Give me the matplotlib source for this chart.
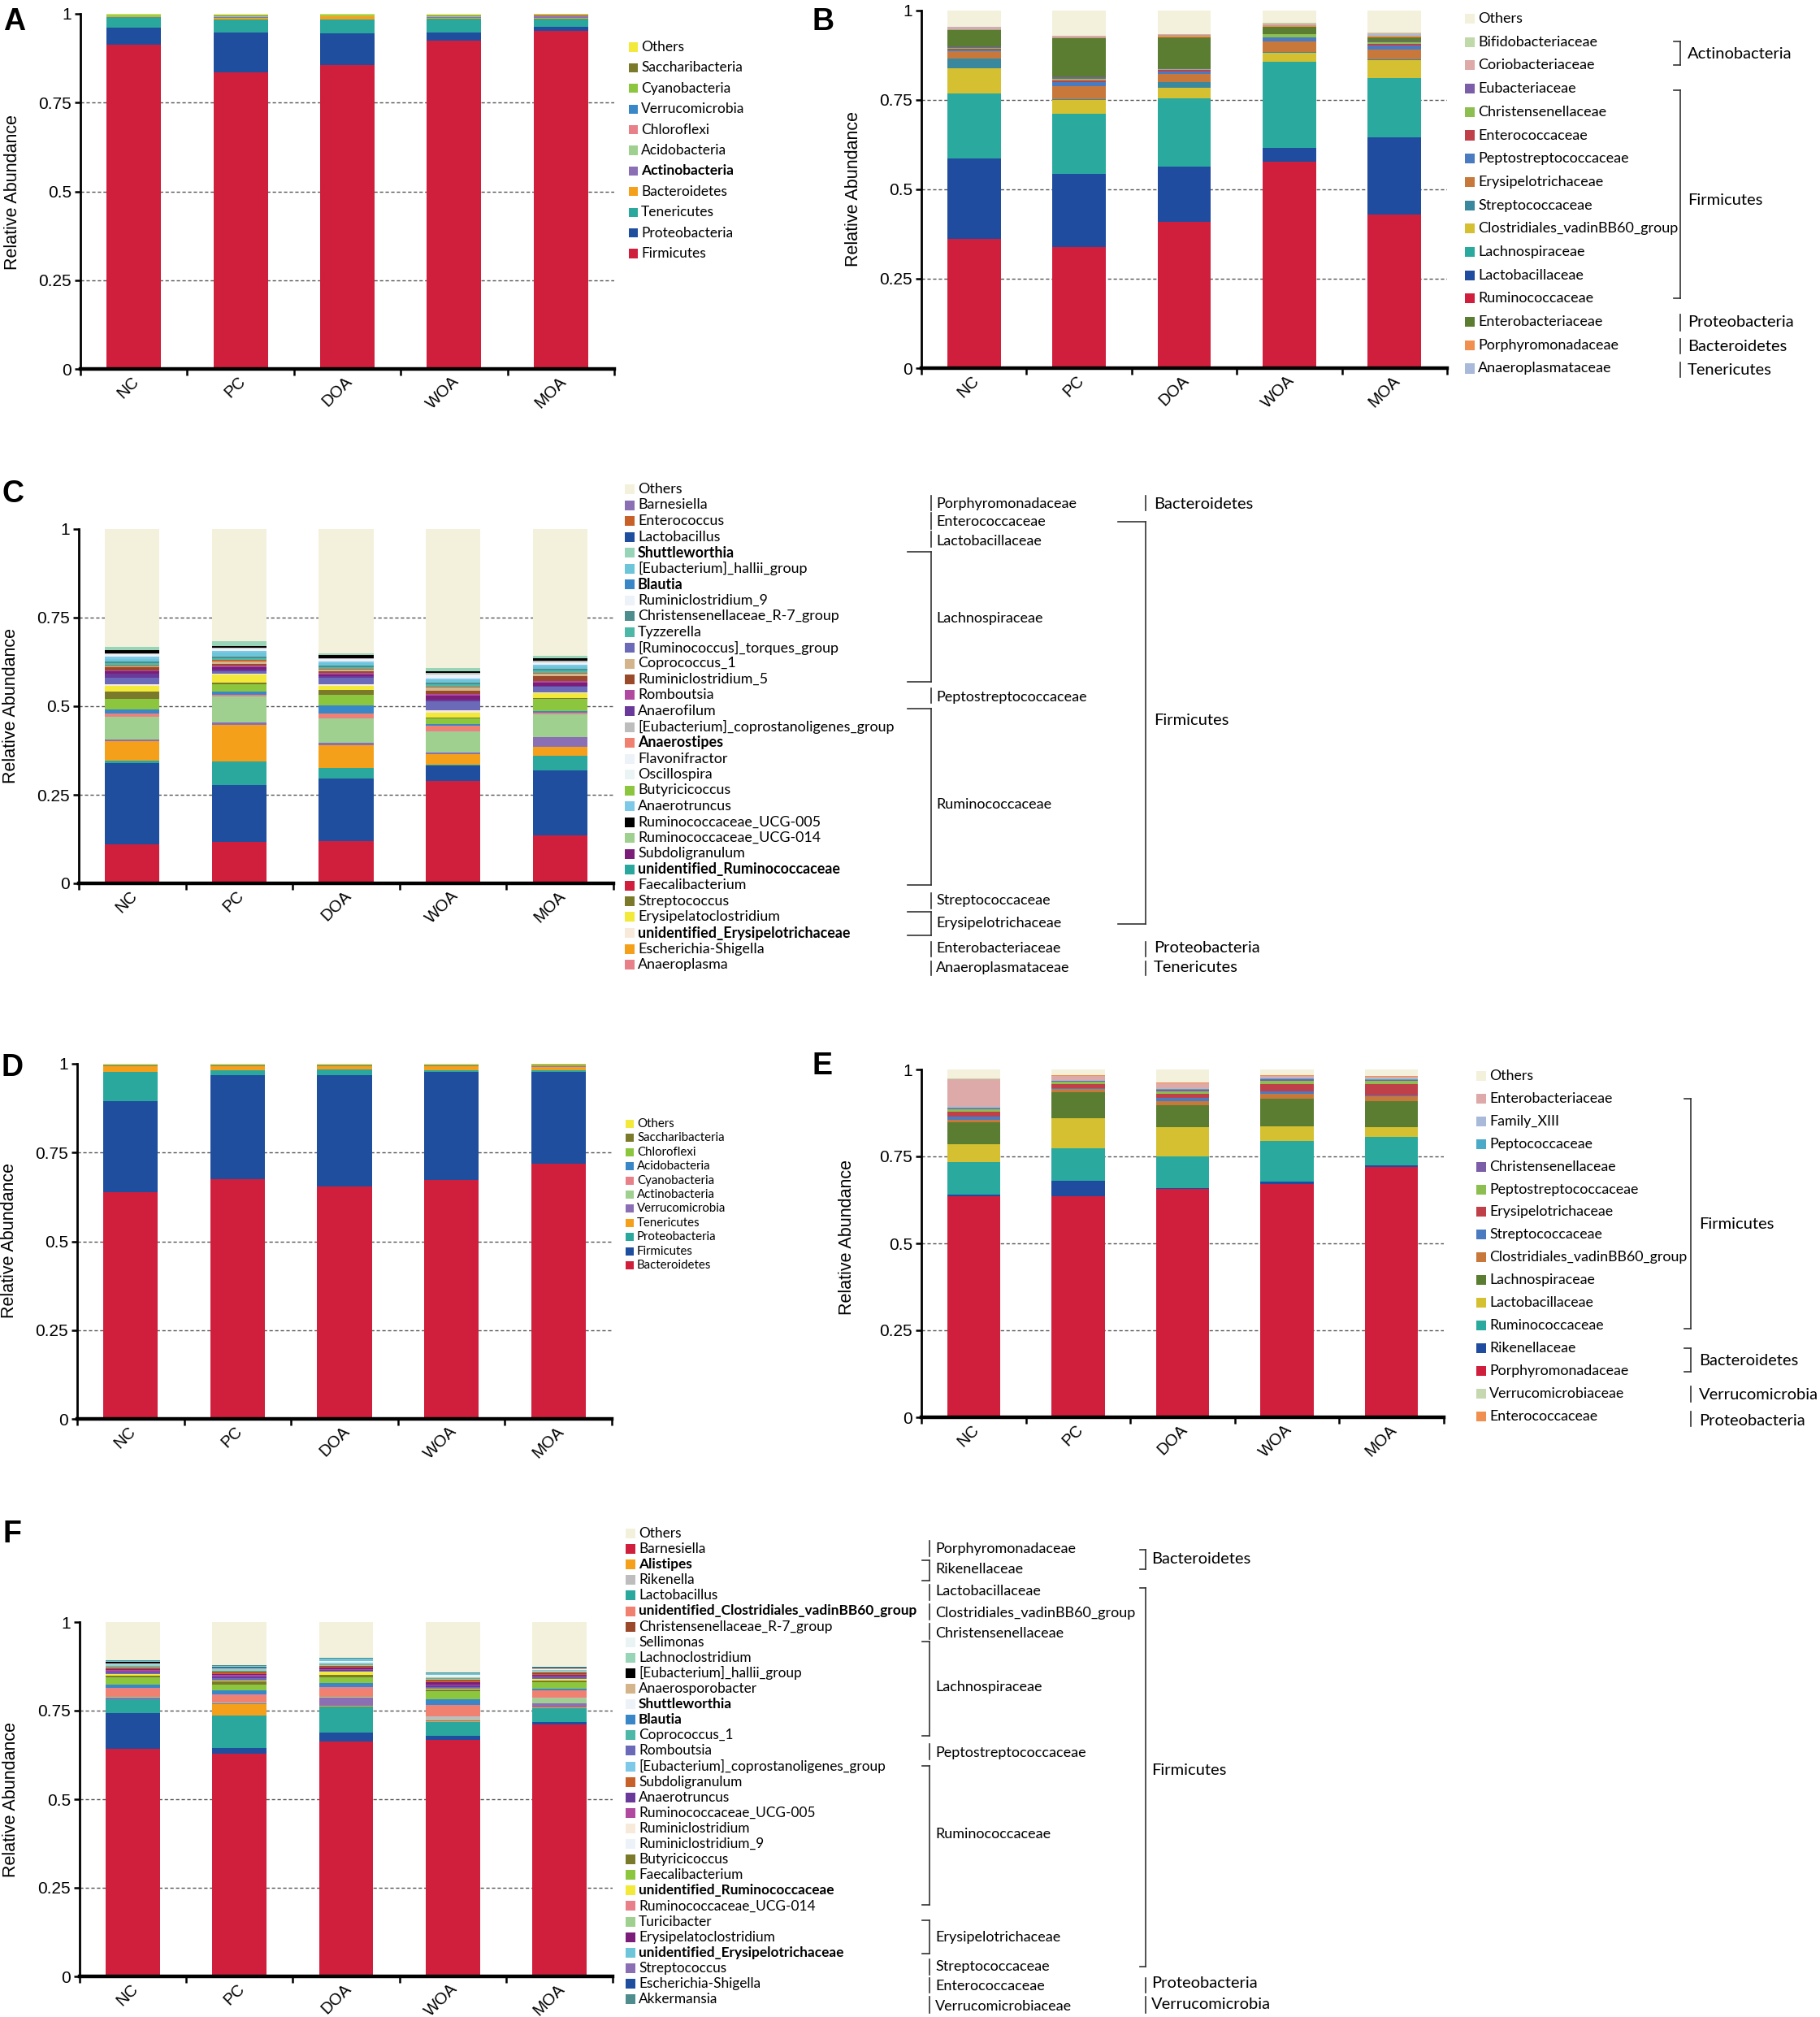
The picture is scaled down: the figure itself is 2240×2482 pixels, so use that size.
import matplotlib
matplotlib.use("Agg")
import matplotlib.pyplot as plt
import numpy as np
from matplotlib.patches import Rectangle
from matplotlib.lines import Line2D
from matplotlib.transforms import ScaledTranslation

plt.rcParams["font.family"] = ["Liberation Sans", "DejaVu Sans"]
LEG_FONT = ["Lato", "DejaVu Sans"]

W, H = 2240, 2482
GROUPS = ["NC", "PC", "DOA", "WOA", "MOA"]

# ---------------- Panel A: phyla, dataset 1 (legend order, top to bottom) ----------------
A_TAXA = ["Others", "Saccharibacteria", "Cyanobacteria", "Verrucomicrobia", "Chloroflexi",
          "Acidobacteria", "Actinobacteria", "Bacteroidetes", "Tenericutes",
          "Proteobacteria", "Firmicutes"]
A_VALUES = [
    [0.003, 0.004, 0.004, 0.004, 0.002],
    [0.001, 0.001, 0.0005, 0.001, 0.002],
    [0.0003, 0.0003, 0.0003, 0.0003, 0.0003],
    [0.0005, 0.001, 0.0005, 0.001, 0.001],
    [0.001, 0.002, 0.001, 0.002, 0.002],
    [0.001, 0.001, 0.001, 0.001, 0.001],
    [0.001, 0.003, 0.001, 0.003, 0.004],
    [0.003, 0.003, 0.008, 0.002, 0.002],
    [0.029, 0.037, 0.039, 0.039, 0.023],
    [0.047, 0.113, 0.090, 0.022, 0.011],
    [0.914, 0.835, 0.856, 0.925, 0.952],
]
A_COLORS = ["#F2E93A", "#7A7A2A", "#8CC63F", "#3A87C8", "#E8808A", "#A0D08F",
            "#8B6FB5", "#F5A01A", "#2BA89E", "#1F4E9E", "#D01F3C"]
A_STACK = A_TAXA[::-1]

# ---------------- Panel B: families, dataset 1 ----------------
B_TAXA = ["Others", "Bifidobacteriaceae", "Coriobacteriaceae", "Eubacteriaceae",
          "Christensenellaceae", "Enterococcaceae", "Peptostreptococcaceae",
          "Erysipelotrichaceae", "Streptococcaceae", "Clostridiales_vadinBB60_group",
          "Lachnospiraceae", "Lactobacillaceae", "Ruminococcaceae", "Enterobacteriaceae",
          "Porphyromonadaceae", "Anaeroplasmataceae"]
B_VALUES = [
    [0.045, 0.070, 0.065, 0.034, 0.062],
    [0.001, 0.001, 0.001, 0.002, 0.001],
    [0.001, 0.001, 0.001, 0.002, 0.004],
    [0.002, 0.004, 0.002, 0.001, 0.002],
    [0.002, 0.004, 0.003, 0.008, 0.004],
    [0.003, 0.004, 0.003, 0.002, 0.005],
    [0.004, 0.012, 0.007, 0.010, 0.012],
    [0.020, 0.036, 0.022, 0.031, 0.027],
    [0.028, 0.002, 0.018, 0.002, 0.002],
    [0.069, 0.040, 0.028, 0.025, 0.050],
    [0.183, 0.167, 0.192, 0.239, 0.166],
    [0.225, 0.206, 0.155, 0.039, 0.216],
    [0.361, 0.338, 0.408, 0.578, 0.429],
    [0.048, 0.110, 0.087, 0.020, 0.012],
    [0.002, 0.003, 0.006, 0.004, 0.004],
    [0.006, 0.002, 0.002, 0.003, 0.004],
]
B_COLORS = ["#F3F1DC", "#BFD9A8", "#DDA9A9", "#7B5EA7", "#8CBF50", "#C0404A", "#4A7BC0",
            "#C8783A", "#3A889E", "#D4C030", "#2AAA9E", "#1F4C9E", "#D01F3C", "#5A7D32",
            "#F09050", "#A9B9DA"]
B_STACK = ["Ruminococcaceae", "Lactobacillaceae", "Lachnospiraceae",
           "Clostridiales_vadinBB60_group", "Streptococcaceae", "Erysipelotrichaceae",
           "Peptostreptococcaceae", "Enterococcaceae", "Christensenellaceae", "Eubacteriaceae",
           "Enterobacteriaceae", "Porphyromonadaceae", "Anaeroplasmataceae",
           "Coriobacteriaceae", "Bifidobacteriaceae", "Others"]

# ---------------- Panel C: genera, dataset 1 ----------------
C_TAXA = ["Others", "Barnesiella", "Enterococcus", "Lactobacillus", "Shuttleworthia",
          "[Eubacterium]_hallii_group", "Blautia", "Ruminiclostridium_9",
          "Christensenellaceae_R-7_group", "Tyzzerella", "[Ruminococcus]_torques_group",
          "Coprococcus_1", "Ruminiclostridium_5", "Romboutsia", "Anaerofilum",
          "[Eubacterium]_coprostanoligenes_group", "Anaerostipes", "Flavonifractor",
          "Oscillospira", "Butyricicoccus", "Anaerotruncus", "Ruminococcaceae_UCG-005",
          "Ruminococcaceae_UCG-014", "Subdoligranulum", "unidentified_Ruminococcaceae",
          "Faecalibacterium", "Streptococcus", "Erysipelatoclostridium",
          "unidentified_Erysipelotrichaceae", "Escherichia-Shigella", "Anaeroplasma"]
C_VALUES = [
    [0.333, 0.316, 0.350, 0.393, 0.357],
    [0.004, 0.005, 0.006, 0.006, 0.027],
    [0.002, 0.006, 0.002, 0.003, 0.003],
    [0.230, 0.161, 0.177, 0.045, 0.184],
    [0.008, 0.015, 0.006, 0.008, 0.008],
    [0.008, 0.012, 0.008, 0.008, 0.006],
    [0.012, 0.008, 0.023, 0.006, 0.005],
    [0.003, 0.003, 0.003, 0.004, 0.003],
    [0.005, 0.004, 0.004, 0.005, 0.006],
    [0.006, 0.004, 0.005, 0.006, 0.006],
    [0.019, 0.006, 0.019, 0.024, 0.016],
    [0.004, 0.005, 0.004, 0.008, 0.005],
    [0.007, 0.006, 0.006, 0.010, 0.016],
    [0.003, 0.004, 0.003, 0.004, 0.003],
    [0.011, 0.006, 0.004, 0.005, 0.003],
    [0.002, 0.003, 0.002, 0.004, 0.004],
    [0.005, 0.003, 0.010, 0.010, 0.003],
    [0.002, 0.002, 0.002, 0.003, 0.002],
    [0.002, 0.002, 0.002, 0.003, 0.002],
    [0.029, 0.022, 0.029, 0.016, 0.033],
    [0.006, 0.004, 0.005, 0.005, 0.005],
    [0.010, 0.004, 0.008, 0.006, 0.007],
    [0.065, 0.075, 0.069, 0.060, 0.064],
    [0.007, 0.006, 0.006, 0.012, 0.009],
    [0.006, 0.066, 0.029, 0.003, 0.041],
    [0.110, 0.117, 0.119, 0.288, 0.135],
    [0.022, 0.003, 0.015, 0.002, 0.002],
    [0.016, 0.023, 0.011, 0.013, 0.014],
    [0.004, 0.003, 0.003, 0.008, 0.003],
    [0.055, 0.104, 0.066, 0.028, 0.025],
    [0.004, 0.002, 0.004, 0.004, 0.003],
]
C_COLORS = ["#F3F1DC", "#8B6FB5", "#C8602A", "#1F4E9E", "#98D4B8", "#6CC5D8", "#3A87C8",
            "#EDF1F8", "#4E8C8E", "#4DB8A8", "#6A6AB8", "#D4B48A", "#9A4A2A", "#B04AA0",
            "#6A3A9A", "#BDBDBD", "#F08070", "#EDF2F8", "#EAF4F4", "#8CC63F", "#7EC8E8",
            "#000000", "#A0D08F", "#7A1E7A", "#2BA89E", "#D01F3C", "#7A7A2A", "#F2E93A",
            "#F8EADA", "#F5A01A", "#E8808A"]
C_STACK = ["Faecalibacterium", "Lactobacillus", "unidentified_Ruminococcaceae",
           "Escherichia-Shigella", "Barnesiella", "Ruminococcaceae_UCG-014", "Anaeroplasma",
           "Anaerostipes", "Blautia", "Butyricicoccus", "Streptococcus",
           "Erysipelatoclostridium", "unidentified_Erysipelotrichaceae",
           "[Ruminococcus]_torques_group", "Anaerofilum", "Subdoligranulum", "Romboutsia",
           "Ruminiclostridium_5", "Coprococcus_1", "Enterococcus", "Tyzzerella",
           "Christensenellaceae_R-7_group", "[Eubacterium]_hallii_group", "Anaerotruncus",
           "Ruminiclostridium_9", "Flavonifractor", "Oscillospira",
           "[Eubacterium]_coprostanoligenes_group", "Ruminococcaceae_UCG-005",
           "Shuttleworthia", "Others"]
C_BOLD = {"Shuttleworthia", "Blautia", "Anaerostipes", "unidentified_Ruminococcaceae",
          "unidentified_Erysipelotrichaceae"}

# ---------------- Panel D: phyla, dataset 2 ----------------
D_TAXA = ["Others", "Saccharibacteria", "Chloroflexi", "Acidobacteria", "Cyanobacteria",
          "Actinobacteria", "Verrucomicrobia", "Tenericutes", "Proteobacteria",
          "Firmicutes", "Bacteroidetes"]
D_VALUES = [
    [0.003, 0.003, 0.003, 0.003, 0.004],
    [0.001, 0.001, 0.001, 0.001, 0.001],
    [0.0002, 0.0002, 0.0002, 0.0002, 0.0002],
    [0.0002, 0.0002, 0.0002, 0.0002, 0.0002],
    [0.0002, 0.0002, 0.0002, 0.0002, 0.0002],
    [0.001, 0.001, 0.001, 0.001, 0.001],
    [0.002, 0.001, 0.001, 0.001, 0.003],
    [0.017, 0.012, 0.009, 0.013, 0.010],
    [0.081, 0.014, 0.016, 0.005, 0.005],
    [0.256, 0.293, 0.314, 0.304, 0.258],
    [0.639, 0.675, 0.655, 0.672, 0.718],
]
D_COLORS = ["#F2E93A", "#7A7A2A", "#8CC63F", "#3A87C8", "#E8808A", "#A0D08F",
            "#8B6FB5", "#F5A01A", "#2BA89E", "#1F4E9E", "#D01F3C"]
D_STACK = D_TAXA[::-1]

# ---------------- Panel E: families, dataset 2 ----------------
E_TAXA = ["Others", "Enterobacteriaceae", "Family_XIII", "Peptococcaceae",
          "Christensenellaceae", "Peptostreptococcaceae", "Erysipelotrichaceae",
          "Streptococcaceae", "Clostridiales_vadinBB60_group", "Lachnospiraceae",
          "Lactobacillaceae", "Ruminococcaceae", "Rikenellaceae", "Porphyromonadaceae",
          "Verrucomicrobiaceae", "Enterococcaceae"]
E_VALUES = [
    [0.025, 0.017, 0.038, 0.017, 0.019],
    [0.080, 0.012, 0.015, 0.005, 0.005],
    [0.003, 0.001, 0.002, 0.002, 0.002],
    [0.002, 0.001, 0.002, 0.003, 0.002],
    [0.002, 0.002, 0.003, 0.004, 0.003],
    [0.008, 0.006, 0.007, 0.009, 0.009],
    [0.014, 0.012, 0.013, 0.020, 0.033],
    [0.008, 0.003, 0.009, 0.007, 0.003],
    [0.009, 0.009, 0.012, 0.014, 0.013],
    [0.063, 0.075, 0.064, 0.081, 0.076],
    [0.050, 0.087, 0.084, 0.042, 0.027],
    [0.094, 0.094, 0.089, 0.116, 0.082],
    [0.004, 0.043, 0.004, 0.008, 0.004],
    [0.636, 0.636, 0.656, 0.670, 0.720],
    [0.001, 0.001, 0.001, 0.001, 0.001],
    [0.001, 0.001, 0.001, 0.001, 0.001],
]
E_COLORS = ["#F3F1DC", "#DDA9A9", "#A9B9DA", "#4AAAC8", "#7B5EA7", "#8CBF50", "#C0404A",
            "#4A7BC0", "#C8783A", "#5A7D32", "#D4C030", "#2AAA9E", "#1F4C9E", "#D01F3C",
            "#C5D8B0", "#F09050"]
E_STACK = ["Porphyromonadaceae", "Rikenellaceae", "Ruminococcaceae", "Lactobacillaceae",
           "Lachnospiraceae", "Clostridiales_vadinBB60_group", "Streptococcaceae",
           "Erysipelotrichaceae", "Peptostreptococcaceae", "Christensenellaceae",
           "Peptococcaceae", "Family_XIII", "Enterobacteriaceae", "Verrucomicrobiaceae",
           "Enterococcaceae", "Others"]

# ---------------- Panel F: genera, dataset 2 ----------------
F_TAXA = ["Others", "Barnesiella", "Alistipes", "Rikenella", "Lactobacillus",
          "unidentified_Clostridiales_vadinBB60_group", "Christensenellaceae_R-7_group",
          "Sellimonas", "Lachnoclostridium", "[Eubacterium]_hallii_group",
          "Anaerosporobacter", "Shuttleworthia", "Blautia", "Coprococcus_1", "Romboutsia",
          "[Eubacterium]_coprostanoligenes_group", "Subdoligranulum", "Anaerotruncus",
          "Ruminococcaceae_UCG-005", "Ruminiclostridium", "Ruminiclostridium_9",
          "Butyricicoccus", "Faecalibacterium", "unidentified_Ruminococcaceae",
          "Ruminococcaceae_UCG-014", "Turicibacter", "Erysipelatoclostridium",
          "unidentified_Erysipelotrichaceae", "Streptococcus", "Escherichia-Shigella",
          "Akkermansia"]
F_VALUES = [
    [0.108, 0.122, 0.102, 0.143, 0.125],
    [0.642, 0.628, 0.662, 0.668, 0.712],
    [0.001, 0.033, 0.002, 0.002, 0.002],
    [0.001, 0.001, 0.001, 0.010, 0.001],
    [0.040, 0.092, 0.075, 0.038, 0.038],
    [0.020, 0.018, 0.020, 0.030, 0.018],
    [0.002, 0.002, 0.002, 0.003, 0.003],
    [0.001, 0.001, 0.001, 0.001, 0.001],
    [0.002, 0.002, 0.002, 0.002, 0.002],
    [0.003, 0.002, 0.002, 0.002, 0.002],
    [0.002, 0.001, 0.002, 0.002, 0.002],
    [0.001, 0.001, 0.001, 0.001, 0.001],
    [0.009, 0.012, 0.011, 0.015, 0.004],
    [0.002, 0.002, 0.002, 0.002, 0.002],
    [0.004, 0.006, 0.003, 0.005, 0.004],
    [0.002, 0.002, 0.003, 0.002, 0.002],
    [0.003, 0.004, 0.003, 0.004, 0.002],
    [0.003, 0.006, 0.002, 0.004, 0.003],
    [0.004, 0.003, 0.003, 0.003, 0.003],
    [0.001, 0.001, 0.001, 0.002, 0.001],
    [0.001, 0.001, 0.001, 0.001, 0.001],
    [0.006, 0.008, 0.007, 0.006, 0.005],
    [0.020, 0.016, 0.017, 0.022, 0.019],
    [0.004, 0.003, 0.007, 0.002, 0.003],
    [0.005, 0.005, 0.007, 0.003, 0.004],
    [0.001, 0.001, 0.002, 0.001, 0.014],
    [0.003, 0.003, 0.004, 0.006, 0.003],
    [0.004, 0.005, 0.006, 0.004, 0.003],
    [0.004, 0.002, 0.023, 0.003, 0.012],
    [0.100, 0.016, 0.025, 0.012, 0.007],
    [0.001, 0.001, 0.001, 0.001, 0.001],
]
F_COLORS = ["#F3F1DC", "#D01F3C", "#F5A01A", "#BDBDBD", "#2BA89E", "#F08070", "#9A4A2A",
            "#EAF3F3", "#98D4B8", "#000000", "#D4B48A", "#EDF1F8", "#3A87C8", "#4DB8A8",
            "#6A6AB8", "#7EC8E8", "#C8602A", "#6A3A9A", "#B04AA0", "#F8EADA", "#EDF1F8",
            "#7A7A2A", "#8CC63F", "#F2E93A", "#E8808A", "#A0D08F", "#7A1E7A", "#6CC5D8",
            "#8B6FB5", "#1F4E9E", "#4E8C8E"]
F_STACK = ["Barnesiella", "Escherichia-Shigella", "Lactobacillus", "Alistipes",
           "Streptococcus", "Turicibacter", "Rikenella",
           "unidentified_Clostridiales_vadinBB60_group", "Ruminococcaceae_UCG-014", "Blautia",
           "Faecalibacterium", "Butyricicoccus", "unidentified_Ruminococcaceae", "Romboutsia",
           "Anaerotruncus", "Ruminococcaceae_UCG-005", "Erysipelatoclostridium",
           "Subdoligranulum", "Christensenellaceae_R-7_group", "Anaerosporobacter",
           "Coprococcus_1", "Lachnoclostridium", "[Eubacterium]_coprostanoligenes_group",
           "Ruminiclostridium", "Ruminiclostridium_9", "Sellimonas", "Shuttleworthia",
           "[Eubacterium]_hallii_group", "unidentified_Erysipelotrichaceae", "Akkermansia",
           "Others"]
F_BOLD = {"Alistipes", "unidentified_Clostridiales_vadinBB60_group", "Shuttleworthia",
          "Blautia", "unidentified_Ruminococcaceae", "unidentified_Erysipelotrichaceae"}

fig = plt.figure(figsize=(W / 100, H / 100), dpi=100)


# Helper functions (all layout given in pixels of the final image)
def fx(x):
    return x / W


def fy(y):
    return 1 - y / H


def stacked_panel(left, right, top, bottom, taxa, values, colors, stack):
    ax = fig.add_axes([fx(left), fy(bottom), (right - left) / W, (bottom - top) / H])
    lookup = {name: (np.array(v), c) for name, v, c in zip(taxa, values, colors)}
    x = np.arange(len(GROUPS))
    base = np.zeros(len(GROUPS))
    for name in stack:
        vals, col = lookup[name]
        ax.bar(x, vals, width=0.51, bottom=base, color=col, linewidth=0, zorder=2)
        base += vals

    ax.set_xlim(-0.5, 4.5)
    ax.set_ylim(0, 1)
    for yv in (0.25, 0.5, 0.75):
        ax.axhline(yv, color="#555555", lw=1.0, ls=(0, (3, 2)), zorder=1)
    ax.spines["top"].set_visible(False)
    ax.spines["right"].set_visible(False)
    ax.spines["left"].set_linewidth(2.0)
    ax.spines["bottom"].set_linewidth(3.2)
    ax.set_yticks([0, 0.25, 0.5, 0.75, 1])
    ax.set_yticklabels(["0", "0.25", "0.5", "0.75", "1"], fontsize=15)
    ax.tick_params(axis="y", direction="out", length=5, width=1.8, pad=3)
    ax.set_xticks(x)
    ax.set_xticklabels(GROUPS, rotation=45, ha="right", fontsize=14.5)
    ax.tick_params(axis="x", which="major", length=0, pad=4)
    ax.set_xticks(np.arange(-0.5, 5, 1), minor=True)
    ax.tick_params(axis="x", which="minor", direction="out", length=6, width=1.8)
    shift = ScaledTranslation(0.10, 0, fig.dpi_scale_trans)
    for lab in ax.get_xticklabels():
        lab.set_transform(lab.get_transform() + shift)
    return ax


def legend_block(taxa, colors, x_sq, y0, dy, sq, fs, bold=()):
    for i, (name, col) in enumerate(zip(taxa, colors)):
        y = y0 + i * dy
        fig.add_artist(Rectangle((fx(x_sq), fy(y + sq / 2)), sq / W, sq / H,
                                 transform=fig.transFigure, facecolor=col,
                                 edgecolor="none"))
        fig.text(fx(x_sq + sq + 4), fy(y), name, fontsize=fs, va="center", ha="left",
                 family=LEG_FONT, fontweight="bold" if name in bold else "normal")


def bracket(x, y0, y1, arm, label, ly, tx, fs):
    kw = dict(transform=fig.transFigure, color="#333333", lw=1.2)
    fig.add_artist(Line2D([fx(x), fx(x)], [fy(y0), fy(y1)], **kw))
    if arm:
        for yy in (y0, y1):
            fig.add_artist(Line2D([fx(x - arm), fx(x)], [fy(yy), fy(yy)], **kw))
    fig.text(fx(tx), fy(ly), label, fontsize=fs, va="center", ha="left", family=LEG_FONT)


def panel_letter(x, y, letter):
    fig.text(fx(x), fy(y), letter, fontsize=27, fontweight="bold", va="top", ha="left")


def ylabel(x, y):
    fig.text(fx(x), fy(y), "Relative Abundance", rotation=90, fontsize=15.5,
             ha="center", va="center")


FAM_FS = 13
PHY_FS = 14.5

# ---- A ----
stacked_panel(99, 756, 17, 454, A_TAXA, A_VALUES, A_COLORS, A_STACK)
panel_letter(4, 9, "A")
ylabel(16, 236)
legend_block(A_TAXA, A_COLORS, 774, 58, 25.4, 11, 12.5, bold={"Actinobacteria"})

# ---- B ----
stacked_panel(1134, 1781, 13, 453, B_TAXA, B_VALUES, B_COLORS, B_STACK)
panel_letter(999, 9, "B")
ylabel(1051, 233)
legend_block(B_TAXA, B_COLORS, 1803, 23, 28.7, 12, 13)
bracket(2068, 51, 80, 8, "Actinobacteria", 67, 2077, PHY_FS)
bracket(2068, 111, 367, 8, "Firmicutes", 247, 2077, PHY_FS)
bracket(2068, 387, 407, 0, "Proteobacteria", 396, 2077, PHY_FS)
bracket(2068, 417, 435, 0, "Bacteroidetes", 426, 2077, PHY_FS)
bracket(2068, 446, 464, 0, "Tenericutes", 455, 2077, PHY_FS)

# ---- C ----
stacked_panel(97, 755, 651, 1087, C_TAXA, C_VALUES, C_COLORS, C_STACK)
panel_letter(3, 590, "C")
ylabel(14, 868)
legend_block(C_TAXA, C_COLORS, 769, 602, 19.5, 12, 12.9, bold=C_BOLD)
for y0, y1, arm, lab, ly in [(610, 628, 0, "Porphyromonadaceae", 620),
                             (631, 651, 0, "Enterococcaceae", 642),
                             (654, 673, 0, "Lactobacillaceae", 666),
                             (679, 839, 29, "Lachnospiraceae", 761),
                             (847, 865, 0, "Peptostreptococcaceae", 858),
                             (872, 1089, 29, "Ruminococcaceae", 990),
                             (1099, 1118, 0, "Streptococcaceae", 1108),
                             (1122, 1151, 29, "Erysipelotrichaceae", 1136),
                             (1159, 1177, 0, "Enterobacteriaceae", 1167),
                             (1183, 1200, 0, "Anaeroplasmataceae", 1191)]:
    bracket(1146, y0, y1, arm, lab, ly, 1152, FAM_FS)
for y0, y1, arm, lab, ly in [(610, 628, 0, "Bacteroidetes", 620),
                             (642, 1137, 34, "Firmicutes", 886),
                             (1159, 1177, 0, "Proteobacteria", 1167),
                             (1183, 1200, 0, "Tenericutes", 1191)]:
    bracket(1410, y0, y1, arm, lab, ly, 1420, PHY_FS)

# ---- D ----
stacked_panel(95, 753, 1309, 1746, D_TAXA, D_VALUES, D_COLORS, D_STACK)
panel_letter(2, 1296, "D")
ylabel(12, 1527)
legend_block(D_TAXA, D_COLORS, 770, 1383, 17.4, 10, 10.8)

# ---- E ----
stacked_panel(1134, 1777, 1316, 1744, E_TAXA, E_VALUES, E_COLORS, E_STACK)
panel_letter(999, 1294, "E")
ylabel(1043, 1522)
legend_block(E_TAXA, E_COLORS, 1817, 1324, 27.9, 12, 12.8)
bracket(2081, 1352, 1635, 8, "Firmicutes", 1506, 2091, PHY_FS)
bracket(2081, 1659, 1688, 8, "Bacteroidetes", 1674, 2091, PHY_FS)
bracket(2081, 1706, 1725, 0, "Verrucomicrobia", 1717, 2091, PHY_FS)
bracket(2081, 1737, 1755, 0, "Proteobacteria", 1748, 2091, PHY_FS)

# ---- F ----
stacked_panel(98, 754, 1996, 2432, F_TAXA, F_VALUES, F_COLORS, F_STACK)
panel_letter(3, 1870, "F")
ylabel(14, 2214)
legend_block(F_TAXA, F_COLORS, 770, 1887, 19.1, 12, 12.4, bold=F_BOLD)
for y0, y1, arm, lab, ly in [(1896, 1915, 0, "Porphyromonadaceae", 1906),
                             (1920, 1945, 9, "Rikenellaceae", 1931),
                             (1950, 1969, 0, "Lactobacillaceae", 1958),
                             (1974, 1993, 0, "Clostridiales_vadinBB60_group", 1985),
                             (1998, 2017, 0, "Christensenellaceae", 2010),
                             (2020, 2136, 9, "Lachnospiraceae", 2076),
                             (2146, 2165, 0, "Peptostreptococcaceae", 2157),
                             (2173, 2344, 9, "Ruminococcaceae", 2257),
                             (2363, 2404, 9, "Erysipelotrichaceae", 2384),
                             (2411, 2430, 0, "Streptococcaceae", 2420),
                             (2434, 2452, 0, "Enterococcaceae", 2444),
                             (2457, 2477, 0, "Verrucomicrobiaceae", 2469)]:
    bracket(1144, y0, y1, arm, lab, ly, 1151, FAM_FS)
for y0, y1, arm, lab, ly in [(1907, 1931, 7, "Bacteroidetes", 1918),
                             (1954, 2420, 7, "Firmicutes", 2179),
                             (2434, 2452, 0, "Proteobacteria", 2441),
                             (2457, 2477, 0, "Verrucomicrobia", 2467)]:
    bracket(1410, y0, y1, arm, lab, ly, 1417, PHY_FS)

fig.savefig("out.png", dpi=100, facecolor="white")
